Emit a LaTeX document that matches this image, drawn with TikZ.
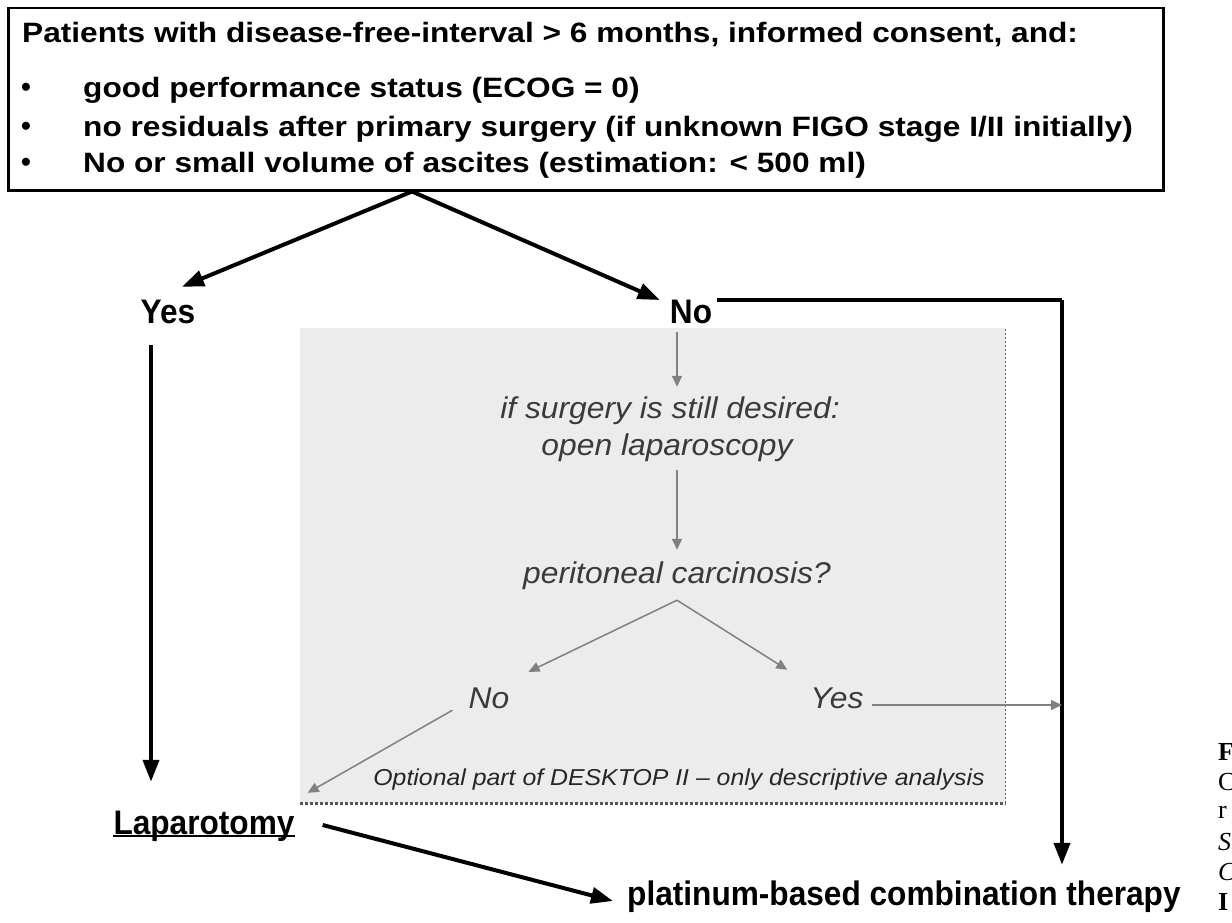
\documentclass[tikz,border=0pt]{standalone}
\usepackage{fontspec}
\setmainfont{Liberation Sans}
\newfontfamily\capserif{Liberation Serif}
\usetikzlibrary{arrows.meta,calc}
\newcommand\bftext[1]{\scalebox{1.13}[1]{\fontsize{28}{30}\selectfont\bfseries #1}}
\newcommand\lbtext[1]{\scalebox{0.93}[1]{\fontsize{34}{36}\selectfont\bfseries #1}}
\newcommand\ittext[1]{\scalebox{1.06}[1]{\fontsize{30}{32}\selectfont\itshape #1}}
\newcommand\smtext[1]{\scalebox{1.08}[1]{\fontsize{23}{25}\selectfont\itshape #1}}
\definecolor{greyfill}{HTML}{ECECEC}
\definecolor{greyline}{HTML}{808080}
\definecolor{greytext}{HTML}{3A3A3A}
\definecolor{dotline}{HTML}{555555}
\begin{document}
\begin{tikzpicture}[x=1pt,y=-1pt,
  boldtxt/.style={inner sep=0pt, text height=20pt, text depth=0pt},
  labeltxt/.style={inner sep=0pt, text height=24pt, text depth=0pt},
  italtxt/.style={inner sep=0pt, text height=22pt, text depth=6pt, text=greytext},
  bk/.style={line width=4pt, -{Triangle[length=22pt,width=16pt]}},
  bkline/.style={line width=4pt},
  ga/.style={line width=1.5pt, draw=greyline, -{Triangle[length=11pt,width=10pt]}},
  bul/.style={inner sep=0pt, font=\fontsize{28}{28}\selectfont\bfseries},
  capl/.style={anchor=west, inner sep=0pt, font=\capserif\fontsize{26}{26}\selectfont}]
\useasboundingbox (0,0) rectangle (1232,923);
\fill[white] (0,0) rectangle (1232,923);

% top box
\node[draw, line width=2.5pt, minimum width=1155pt, minimum height=182pt, anchor=north west, inner sep=0pt] (top) at (7,7) {};
\node[boldtxt, anchor=west] (l1) at (22,33) {\bftext{Patients with disease-free-interval > 6 months, informed consent, and:}};
\node[bul] (b1) at (26,90) {•};
\node[bul] (b2) at (26,129) {•};
\node[bul] (b3) at (26,165) {•};
\node[boldtxt, anchor=west] (l2) at (83,88) {\bftext{good performance status (ECOG = 0)}};
\node[boldtxt, anchor=west] (l3) at (83,127) {\bftext{no residuals after primary surgery (if unknown FIGO stage I/II initially)}};
\node[boldtxt, anchor=west] (l4) at (83,163) {\bftext{No or small volume of ascites (estimation: < 500 ml)}};

% grey optional region
\node[fill=greyfill, inner sep=0pt, minimum width=705pt, minimum height=475pt, anchor=north west] (gbox) at (300,328) {};
\draw[dotline, line width=2.5pt, dash pattern=on 3pt off 2pt] (gbox.south west) -- (gbox.south east);
\draw[dotline, line width=1.5pt, dash pattern=on 2pt off 2pt] (gbox.south east) -- (gbox.north east);

% bold labels
\node[labeltxt] (yes) at (168,311) {\lbtext{Yes}};
\node[labeltxt] (no) at (691,311) {\lbtext{No}};
\node[labeltxt] (lap) at (204,822) {\lbtext{Laparotomy}};
\draw[line width=2.5pt] ([yshift=-2pt]lap.south west) -- ([yshift=-2pt]lap.south east);
\node[labeltxt, anchor=west] (plat) at (627,893) {\lbtext{platinum-based combination therapy}};

% italic labels
\node[italtxt] (q1) at (670,410) {\ittext{if surgery is still desired:}};
\node[italtxt] (q2) at (667,447) {\ittext{open laparoscopy}};
\node[italtxt] (pc) at (677,575) {\ittext{peritoneal carcinosis?}};
\node[italtxt] (ino) at (489,700) {\ittext{No}};
\node[italtxt] (iyes) at (837,700) {\ittext{Yes}};
\node[inner sep=0pt, text=black!85] (opt) at (679,780) {\smtext{Optional part of DESKTOP II – only descriptive analysis}};

% black connectors
\coordinate (apex) at ([xshift=405pt]top.south west);
\coordinate (rc) at (1062,300);
\draw[bk] (apex) -- ([xshift=14pt,yshift=12pt]yes.north);
\draw[bk] (apex) -- ([xshift=-10pt,yshift=11pt]no.west);
\draw[bkline] ([xshift=5pt,yshift=11pt]no.east) -- (rc);
\draw[bk] (rc) -- ([yshift=16pt]plat.north -| rc);
\draw[bk] ([xshift=-17pt,yshift=-22pt]yes.south) -- ([xshift=-53pt,yshift=28pt]lap.north);
\draw[bk] ([xshift=28pt,yshift=-3pt]lap.east) -- ([xshift=-14pt,yshift=-8pt]plat.west);

% grey connectors
\draw[ga] ([yshift=-9pt]no.south -| pc.north) -- ([yshift=9pt]q1.north -| pc.north);
\draw[ga] ([yshift=-9pt]q2.south -| pc.north) -- ([yshift=11pt]pc.north);
\draw[ga] ([yshift=-11pt]pc.south) -- ([xshift=19pt,yshift=14pt]ino.north east);
\draw[ga] ([yshift=-11pt]pc.south) -- ([xshift=-23pt,yshift=16pt]iyes.north west);
\draw[ga] ([xshift=8pt,yshift=-5pt]iyes.east) -- ([yshift=-5pt]iyes.east -| rc);
\draw[ga] ([xshift=-16pt,yshift=4pt]ino.south west) -- ([xshift=13pt,yshift=17pt]lap.north east);

% clipped caption fragments at right edge
\begin{scope}
\clip (0,0) rectangle (1232,923);
\node[capl] (c1) at (1218,752) {\textbf{F}};
\node[capl] (c2) at (1218,782) {C};
\node[capl] (c3) at (1218,812) {r};
\node[capl] (c4) at (1218,842) {\textit{S}};
\node[capl] (c5) at (1218,872) {\textit{C}};
\node[capl] (c6) at (1218,902) {\textbf{I}};
\end{scope}
\end{tikzpicture}
\end{document}
